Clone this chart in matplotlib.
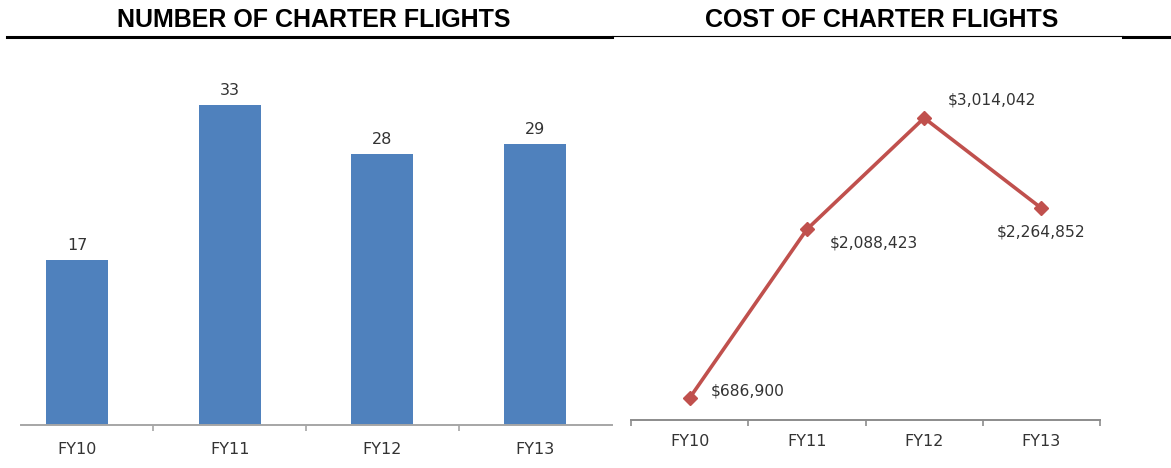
import matplotlib.pyplot as plt
from matplotlib.lines import Line2D
import numpy as np

years = ["FY10", "FY11", "FY12", "FY13"]
flights = [17, 33, 28, 29]
costs = [686900, 2088423, 3014042, 2264852]

W, H = 1171, 468
text_col = "#333333"
plt.rcParams["font.family"] = "DejaVu Sans"

fig = plt.figure(figsize=(W / 100, H / 100), dpi=100)


def px_axes(x0, x1, ytop, ybot):
    return fig.add_axes([x0 / W, 1 - ybot / H, (x1 - x0) / W, (ybot - ytop) / H])


def style_cat_axis(ax, col, pad, minor):
    for s in ["left", "right", "top"]:
        ax.spines[s].set_visible(False)
    ax.spines["bottom"].set_color(col)
    ax.spines["bottom"].set_linewidth(1.4)
    ax.set_yticks([])
    ax.set_xticks(np.arange(len(years)))
    ax.set_xticklabels(years, fontsize=11.5, color=text_col)
    ax.tick_params(axis="x", which="major", length=0, pad=pad)
    ax.set_xticks(minor, minor=True)
    ax.tick_params(axis="x", which="minor", length=4.3, width=1.2, color=col)


# left: number of charter flights
ax1 = px_axes(21, 612, 60, 424.5)
x = np.arange(len(years))
bars = ax1.bar(x, flights, width=0.406, color="#4F81BD")
ax1.bar_label(bars, labels=[str(v) for v in flights], padding=5,
              fontsize=11.5, color=text_col)
ax1.set_xlim(-0.367, 3.504)
ax1.set_ylim(0, 37.7)
style_cat_axis(ax1, "#a6a6a6", 12.5, [0.5, 1.5, 2.5])

# right: cost of charter flights
ax2 = px_axes(631, 1100, 60, 420)
ax2.plot(x, costs, color="#C0504D", lw=2.6, marker="D", ms=7.5)
ax2.set_xlim(-0.5, 3.5)
ax2.set_ylim(504053, 3496086)
style_cat_axis(ax2, "#8c8c8c", 10, [-0.5, 0.5, 1.5, 2.5, 3.5])

offsets = [(15, 5, "left"), (16.5, -10, "left"), (17, 13, "left"), (0, -17, "center")]
for xi, v, (dx, dy, ha) in zip(x, costs, offsets):
    ax2.annotate(f"${v:,}", (xi, v), textcoords="offset points", xytext=(dx, dy),
                 ha=ha, va="center", fontsize=11.2, color=text_col)

# titles and rules
fig.text(314 / W, 1 - 20 / H, "NUMBER OF CHARTER FLIGHTS", ha="center", va="center",
         fontsize=18, fontweight="bold", family="Liberation Sans")
fig.text(882 / W, 1 - 20 / H, "COST OF CHARTER FLIGHTS", ha="center", va="center",
         fontsize=18, fontweight="bold", family="Liberation Sans")
fig.add_artist(Line2D([7 / W, 612 / W], [1 - 36.5 / H] * 2, color="black", lw=2.2))
fig.add_artist(Line2D([612 / W, 1123 / W], [1 - 35.8 / H] * 2, color="black", lw=0.8))
fig.add_artist(Line2D([1123 / W, 1], [1 - 36.5 / H] * 2, color="black", lw=2.2))

fig.savefig("out.png", dpi=100)
